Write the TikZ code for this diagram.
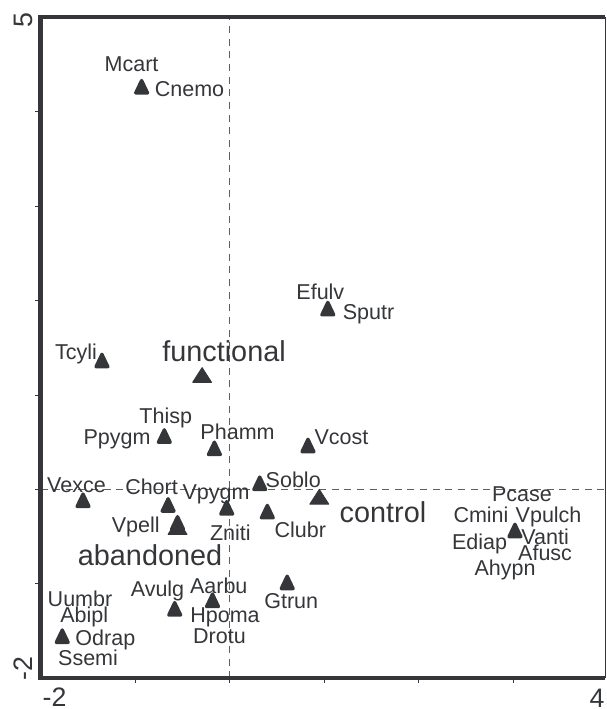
\documentclass[tikz,border=0pt]{standalone}
\usepackage{fontspec}
\setmainfont{Liberation Sans}
\usetikzlibrary{shapes.geometric}

\definecolor{ink}{RGB}{52,54,57}
\definecolor{dashgray}{RGB}{95,95,95}

\begin{document}
\begin{tikzpicture}[
    x=2.3625cm, y=2.36cm,
    every node/.style={text=ink},
    spp/.style={isosceles triangle, isosceles triangle stretches, shape border rotate=90,
        fill=ink, draw=ink, line width=2.4pt, line join=round,
        minimum width=8.4pt, minimum height=8.8pt, inner sep=0pt},
    cent/.style={isosceles triangle, isosceles triangle stretches, shape border rotate=90,
        fill=ink, draw=ink, line width=0.6pt, line join=round,
        minimum width=13.5pt, minimum height=10.5pt, inner sep=0pt},
    lab/.style={font=\fontsize{15.3}{16}\selectfont, inner sep=0pt, text height=10.9pt, text depth=0pt},
    grp/.style={font=\fontsize{20.5}{22}\selectfont, inner sep=0pt, text height=14.7pt, text depth=0pt},
    axnum/.style={font=\fontsize{19}{20}\selectfont, inner sep=0pt, text height=13.6pt, text depth=0pt}
]
    \useasboundingbox (-2.4286,-2.325) rectangle (3.984,5.185);

    % Frame corners and axes through the origin
    \coordinate (ll) at (-2,-2);
    \coordinate (ul) at (-2,5);
    \coordinate (ur) at (3.973,5);
    \coordinate (lr) at (3.973,-2);
    \coordinate (xbot) at (0,-2);
    \coordinate (xtop) at (0,5);
    \coordinate (yleft) at (-2,0);
    \coordinate (yright) at (3.973,0);

    \draw[dashgray, line width=0.6pt, dash pattern=on 5pt off 4pt] (xbot) -- (xtop);
    \draw[dashgray, line width=0.6pt, dash pattern=on 5pt off 4pt] (yleft) -- (yright);

    \draw[ink, line width=0.7pt] (lr) -- (ur);
    \draw[ink, line width=2.9pt] (ur) -- (ul) -- (ll) -- (lr);

    % Ticks
    \foreach \y in {-1,...,4}
        \draw[ink, line width=0.6pt] (-2,\y) -- ++(-3.6pt,0);
    \foreach \x in {-1,...,3}
        \draw[ink, line width=0.6pt] (\x,-2) -- ++(0,-3.6pt);

    % Axis numbers
    \node[axnum, rotate=90] (y5) at (-2.185,4.974) {5};
    \node[axnum, rotate=90] (ym2) at (-2.19,-1.901) {-2};
    \node[axnum] (xm2) at (-1.852,-2.195) {-2};
    \node[axnum] (x4) at (3.89,-2.21) {4};

    % Species
    \node[spp] (cnemo) at (-0.93,4.24) {};
    \node[spp] (tcyli) at (-1.35,1.34) {};
    \node[spp] (ppygm) at (-0.69,0.54) {};
    \node[spp] (phamm) at (-0.16,0.41) {};
    \node[spp] (vcost) at (0.83,0.44) {};
    \node[spp] (vexce) at (-1.55,-0.14) {};
    \node[spp] (chort) at (-0.65,-0.19) {};
    \node[spp] (vpygm) at (-0.03,-0.22) {};
    \node[spp] (soblo) at (0.32,0.04) {};
    \node[spp] (clubr) at (0.40,-0.26) {};
    \node[spp] (vpell) at (-0.55,-0.38) {};
    \node[spp] (sputr) at (1.04,1.89) {};
    \node[spp] (vanti) at (3.02,-0.46) {};
    \node[spp] (odrap) at (-1.77,-1.58) {};
    \node[spp] (avulg) at (-0.58,-1.29) {};
    \node[spp] (aarbu) at (-0.18,-1.20) {};
    \node[spp] (gtrun) at (0.61,-1.01) {};

    % Treatment centroids
    \node[cent] (functional) at (-0.29,1.19) {};
    \node[cent] (control) at (0.95,-0.10) {};
    \node[cent] (abandoned) at (-0.55,-0.42) {};

    % Species labels
    \node[lab] (l-mcart) at (-1.037,4.513) {Mcart};
    \node[lab] (l-cnemo) at (-0.423,4.239) {Cnemo};
    \node[lab] (l-tcyli) at (-1.624,1.460) {Tcyli};
    \node[lab] (l-thisp) at (-0.675,0.779) {Thisp};
    \node[lab] (l-ppygm) at (-1.190,0.553) {Ppygm};
    \node[lab] (l-phamm) at (0.085,0.612) {Phamm};
    \node[lab] (l-vcost) at (1.185,0.559) {Vcost};
    \node[lab] (l-vexce) at (-1.619,0.048) {Vexce};
    \node[lab] (l-chort) at (-0.825,0.030) {Chort};
    \node[lab] (l-vpygm) at (-0.143,-0.023) {Vpygm};
    \node[lab] (l-soblo) at (0.674,0.101) {Soblo};
    \node[lab] (l-vpell) at (-0.992,-0.369) {Vpell};
    \node[lab] (l-zniti) at (0.009,-0.464) {Zniti};
    \node[lab] (l-clubr) at (0.749,-0.429) {Clubr};
    \node[lab] (l-efulv) at (0.961,2.095) {Efulv};
    \node[lab] (l-sputr) at (1.471,1.883) {Sputr};
    \node[lab] (l-pcase) at (3.095,-0.048) {Pcase};
    \node[lab] (l-cmini) at (2.661,-0.270) {Cmini};
    \node[lab] (l-vpulch) at (3.376,-0.270) {Vpulch};
    \node[lab] (l-ediap) at (2.646,-0.553) {Ediap};
    \node[lab] (l-vanti) at (3.339,-0.500) {Vanti};
    \node[lab] (l-afusc) at (3.339,-0.673) {Afusc};
    \node[lab] (l-ahypn) at (2.915,-0.835) {Ahypn};
    \node[lab] (l-uumbr) at (-1.582,-1.163) {Uumbr};
    \node[lab] (l-abipl) at (-1.538,-1.329) {Abipl};
    \node[lab] (l-odrap) at (-1.314,-1.570) {Odrap};
    \node[lab] (l-ssemi) at (-1.497,-1.788) {Ssemi};
    \node[lab] (l-avulg) at (-0.762,-1.047) {Avulg};
    \node[lab] (l-aarbu) at (-0.114,-1.022) {Aarbu};
    \node[lab] (l-hpoma) at (-0.048,-1.329) {Hpoma};
    \node[lab] (l-drotu) at (-0.106,-1.552) {Drotu};
    \node[lab] (l-gtrun) at (0.653,-1.178) {Gtrun};

    % Treatment labels
    \node[grp] (l-functional) at (-0.058,1.470) {functional};
    \node[grp] (l-control) at (1.624,-0.235) {control};
    \node[grp] (l-abandoned) at (-0.841,-0.694) {abandoned};
\end{tikzpicture}
\end{document}
